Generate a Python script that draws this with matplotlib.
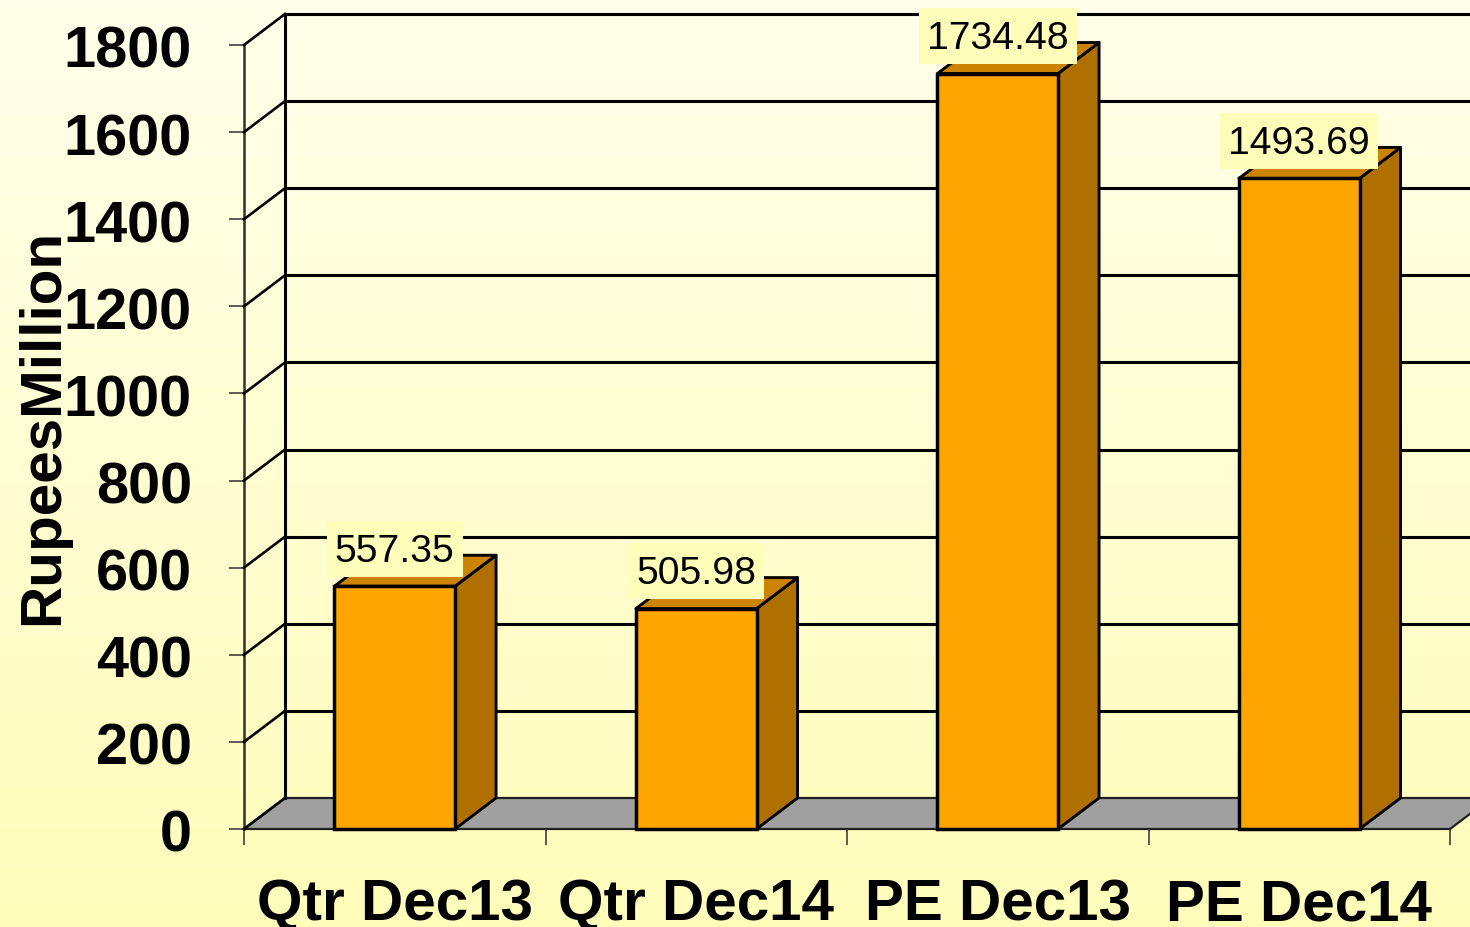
import numpy as np
import matplotlib
matplotlib.use("Agg")
import matplotlib.pyplot as plt
from matplotlib.colors import LinearSegmentedColormap
from matplotlib.patches import Polygon
from matplotlib.path import Path
from matplotlib.transforms import ScaledTranslation

categories = ["Qtr Dec13", "Qtr Dec14", "PE Dec13", "PE Dec14"]
values = [557.35, 505.98, 1734.48, 1493.69]
value_labels = ["557.35", "505.98", "1734.48", "1493.69"]
y_ticks = [0, 200, 400, 600, 800, 1000, 1200, 1400, 1600, 1800]
y_title = "RupeesMillion"

plt.rcParams["font.family"] = ["Liberation Sans", "DejaVu Sans"]
W, H = 1470, 927
fig = plt.figure(figsize=(W / 100, H / 100), dpi=100)

# background gradient
bg = fig.add_axes([0, 0, 1, 1], zorder=0)
bg.axis("off")
cmap = LinearSegmentedColormap.from_list("bg", ["#FFFFEA", "#FFFDBA"])
bg.imshow(np.linspace(0, 1, 256)[:, None], aspect="auto", cmap=cmap, extent=(0, 1, 0, 1))

L, R, B, T = 244, 1450, 829, 45
ax = fig.add_axes([L / W, (H - B) / H, (R - L) / W, (B - T) / H], zorder=1)
ax.patch.set_alpha(0)
n = len(categories)
ax.set_xlim(0, n)
ax.set_ylim(0, 1800)
for s in ax.spines.values():
    s.set_visible(False)

DX = 41 / ((R - L) / n)              # depth offset, x data units
DY = 31 / ((B - T) / 1800)           # depth offset, y data units
BW = 0.4
K = "#000000"

# floor
ax.add_patch(Polygon([(0, 0), (n, 0), (n + DX, DY), (DX, DY)], fc="#A0A0A0", ec="#202020",
                     lw=1.6, clip_on=False, zorder=1))
# walls
ax.plot([DX, DX], [DY, 1800 + DY], color=K, lw=2.2, clip_on=False, zorder=2)
ax.plot([0, 0], [0, 1800], color="#303030", lw=1.8, clip_on=False, zorder=2)
for v in y_ticks:
    ax.plot([0, DX], [v, v + DY], color=K, lw=1.9, clip_on=False, zorder=2)
    if v > 0:
        ax.plot([DX, n + DX], [v + DY, v + DY], color=K, lw=2.2, clip_on=False, zorder=2)

# bars
for i, v in enumerate(values):
    x0, x1 = i + 0.5 - BW / 2, i + 0.5 + BW / 2
    z = 3 + i
    ax.add_patch(Polygon([(x1, 0), (x1 + DX, DY), (x1 + DX, v + DY), (x1, v)], fc="#B07000",
                         ec=K, lw=2.1, joinstyle="round", clip_on=False, zorder=z))
    ax.add_patch(Polygon([(x0, v), (x1, v), (x1 + DX, v + DY), (x0 + DX, v + DY)], fc="#CC8400",
                         ec=K, lw=2.1, joinstyle="round", clip_on=False, zorder=z))
    ax.bar(i + 0.5, v, width=BW, color="#FFA500", edgecolor=K, linewidth=2.5, clip_on=False, zorder=z + 0.1)


def label_box(x0, y0, width, height, mutation_size):
    """Label background: 8 px side margins, 56 px tall, sitting slightly above the text centre."""
    cy = y0 + height / 2 + 3
    xa, xb = x0 - 8, x0 + width + 8
    ya, yb = cy - 28, cy + 28
    return Path([(xa, ya), (xb, ya), (xb, yb), (xa, yb), (xa, ya)], closed=True)


# value labels
for i, (v, s) in enumerate(zip(values, value_labels)):
    ax.annotate(s, (i + 0.5, v), xytext=(0, 25), textcoords="offset points", ha="center", va="center",
                fontsize=28.2, color=K, zorder=10, annotation_clip=False,
                bbox=dict(boxstyle=label_box, fc="#FFFDBA", ec="none"))

# axes
ax.set_yticks(y_ticks)
ax.set_yticklabels([str(v) for v in y_ticks], fontsize=41.5, fontweight="bold")
ax.tick_params(axis="y", length=11, width=1.1, color="#303030", pad=26.5)
shift = ScaledTranslation(0, -2 / 100, fig.dpi_scale_trans)
for lab in ax.get_yticklabels():
    lab.set_transform(lab.get_transform() + shift)
ax.set_xticks(np.arange(n + 1))
ax.set_xticklabels([""] * (n + 1))
ax.tick_params(axis="x", which="major", length=11.5, width=1.1, color="#303030")
ax.set_xticks(np.arange(n) + 0.5, minor=True)
ax.set_xticklabels(categories, minor=True, fontsize=42, fontweight="bold")
ax.tick_params(axis="x", which="minor", length=0, pad=35.5)
ax.set_ylabel(y_title, fontsize=42, fontweight="bold", va="center", rotation=90)
ax.yaxis.set_label_coords((43 - L) / (R - L), (B - 427) / (B - T))

fig.savefig("out.png", dpi=100)
